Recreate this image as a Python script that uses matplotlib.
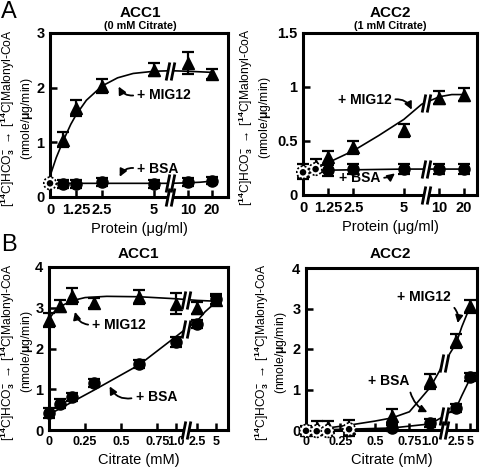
import numpy as np
import matplotlib
matplotlib.use("Agg")
import matplotlib.pyplot as plt
from matplotlib.path import Path

plt.rcParams['font.family'] = ['Liberation Sans', 'DejaVu Sans']
plt.rcParams['font.weight'] = 'bold'
plt.rcParams['mathtext.fontset'] = 'custom'
plt.rcParams['mathtext.rm'] = 'Liberation Sans:bold'
plt.rcParams['mathtext.it'] = 'Liberation Sans:bold'
plt.rcParams['mathtext.bf'] = 'Liberation Sans:bold'

W, H = 486, 472
TICKFONT = ['Liberation Sans Narrow', 'Liberation Sans', 'DejaVu Sans']

# ---- data (A: protein titration, B: citrate titration) ----
prot = [0, 0.625, 1.25, 2.5, 5, 10, 20]
prot_ticks = [0, 1.25, 2.5, 5, 10, 20]
prot_ticklabels = ['0', '1.25', '2.5', '5', '10', '20']

citr = [0, 0.078, 0.156, 0.3125, 0.625, 1.0, 2.5, 5]
citr_ticks = [0, 0.25, 0.5, 0.75, 1.0, 2.5, 5]
citr_ticklabels = ['0', '0.25', '0.5', '0.75', '1.0', '2.5', '5']

# A, ACC1 (0 mM citrate)
a1_mig = [1.05, 1.63, 2.03, 2.33, 2.45, 2.25]          # from 0.625 on
a1_mig_err = [0.14, 0.14, 0.12, 0.12, 0.2, 0.1]
a1_bsa = [0.25, 0.24, 0.24, 0.27, 0.24, 0.27, 0.3]
a1_bsa_err = [0.05, 0.07, 0.07, 0.07, 0.07, 0.07, 0.07]
a1_mig_fit_x = [0, 0.3, 0.625, 1.0, 1.25, 1.75, 2.5, 3.25, 4.0, 5.0, 7.5, 10, 15, 20]
a1_mig_fit_y = [0.38, 0.72, 1.02, 1.33, 1.5, 1.77, 2.03, 2.18, 2.26, 2.3, 2.31, 2.3, 2.29, 2.28]
a1_bsa_fit_x = [0, 2.5, 5, 7.5, 10, 15, 20]
a1_bsa_fit_y = [0.25, 0.25, 0.25, 0.25, 0.26, 0.27, 0.29]

# A, ACC2 (1 mM citrate)
a2_mig = [0.22, 0.27, 0.35, 0.44, 0.6, 0.9, 0.93]
a2_mig_err = [0.07, 0.06, 0.06, 0.06, 0.06, 0.06, 0.06]
a2_bsa = [0.21, 0.24, 0.23, 0.24, 0.24, 0.24, 0.24]
a2_bsa_err = [0.05, 0.05, 0.05, 0.05, 0.05, 0.05, 0.05]
a2_mig_fit_x = [0, 0.625, 1.25, 2.5, 3.75, 5, 7.5, 10, 15, 20]
a2_mig_fit_y = [0.22, 0.26, 0.3, 0.41, 0.55, 0.7, 0.84, 0.91, 0.93, 0.93]
a2_bsa_fit_x = [0, 1.25, 5, 10, 20]
a2_bsa_fit_y = [0.22, 0.23, 0.24, 0.24, 0.24]

# B, ACC1
b1_mig = [2.7, 3.05, 3.28, 3.12, 3.27, 3.1, 3.0, 3.2]
b1_mig_err = [0.18, 0.15, 0.2, 0.12, 0.17, 0.25, 0.15, 0.1]
b1_bsa = [0.42, 0.65, 0.8, 1.15, 1.63, 2.15, 2.6, 3.22]
b1_bsa_err = [0.12, 0.1, 0.1, 0.1, 0.1, 0.12, 0.1, 0.12]
b1_mig_fit_x = [0, 0.04, 0.078, 0.156, 0.25, 0.4, 0.625, 1.0, 1.75, 2.5, 5]
b1_mig_fit_y = [2.72, 2.92, 3.03, 3.17, 3.25, 3.28, 3.27, 3.22, 3.2, 3.18, 3.16]
b1_bsa_fit_x = [0, 0.156, 0.3125, 0.625, 1.0, 1.75, 2.5, 3.5, 5]
b1_bsa_fit_y = [0.38, 0.68, 0.98, 1.6, 2.3, 2.5, 2.68, 2.9, 3.15]

# B, ACC2
b2_mig = [0.0, 0.05, 0.08, 0.04, 0.35, 1.2, 2.2, 3.05]
b2_mig_err = [0.1, 0.17, 0.15, 0.2, 0.17, 0.18, 0.17, 0.17]
b2_bsa = [-0.02, -0.03, -0.03, 0.02, 0.05, 0.18, 0.55, 1.3]
b2_bsa_err = [0.08, 0.08, 0.08, 0.08, 0.08, 0.1, 0.1, 0.1]
b2_mig_fit_x = [0, 0.156, 0.3125, 0.5, 0.625, 0.75, 1.0, 1.75, 2.5, 3.5, 5]
b2_mig_fit_y = [0.0, 0.05, 0.12, 0.22, 0.3, 0.45, 1.05, 1.62, 2.15, 2.55, 3.05]
b2_bsa_fit_x = [0, 0.3125, 0.625, 1.0, 1.75, 2.5, 3.5, 5]
b2_bsa_fit_y = [0.0, 0.02, 0.05, 0.15, 0.33, 0.55, 0.85, 1.27]

# broken x axes: knots real value -> plotting position, per panel
top_kx = [0, 5, 10, 20]
bot_kx = [0, 0.75, 1.0, 2.5, 5]

ylab = ('[$^{14}$C]HCO$_3^{-}$ $\\rightarrow$ [$^{14}$C]Malonyl-CoA\n'
        '(nmole/$\\mu$g/min)')

brk_gap = Path([(-2.6, -5), (0.6, -5), (2.6, 5), (-0.6, 5), (-2.6, -5)],
               [Path.MOVETO, Path.LINETO, Path.LINETO, Path.LINETO, Path.CLOSEPOLY])
brk_lines = Path([(-2.4, -5), (-0.4, 5), (0.4, -5), (2.4, 5)],
                 [Path.MOVETO, Path.LINETO, Path.MOVETO, Path.LINETO])


def brk(ax, x, y):
    ax.plot([x], [y], marker=brk_gap, ms=13, mfc='white', mec='none',
            ls='none', zorder=6, clip_on=False)
    ax.plot([x], [y], marker=brk_lines, ms=13, mec='black', mew=2.0,
            ls='none', zorder=7, clip_on=False)


def panel(l, t, r, b, lab_right):
    ax = fig.add_axes([l / W, 1 - b / H, (r - l) / W, (b - t) / H])
    for s in ax.spines.values():
        s.set_linewidth(2.2)
    ax.tick_params(direction='in', width=1.8, length=5, labelsize=10.5, pad=4)
    ax.set_ylabel(ylab, fontsize=8.7, linespacing=1.15)
    ax.yaxis.set_label_coords((lab_right - l) / (r - l), 0.48)
    return ax


def ticks(ax, xt, xl, yt, yl):
    ax.set_xticks(xt)
    ax.set_xticklabels(xl, fontfamily=TICKFONT)
    ax.set_yticks(yt)
    ax.set_yticklabels(yl, fontfamily=TICKFONT)


def eb(ax, x, y, e, marker, ms=8):
    ax.errorbar(x, y, yerr=e, fmt=marker, ms=ms, mfc='black', mec='black',
                ecolor='black', elinewidth=1.6, capsize=4, capthick=1.6,
                zorder=4, clip_on=False)


def open_pts(ax, x, y):
    # control points: white ring with dotted outline and dark centre
    ax.scatter(x, y, s=80, facecolor='white', edgecolor='black',
               linewidths=1.2, linestyle=(0, (1.2, 1.2)), zorder=5, clip_on=False)
    ax.scatter(x, y, s=22, facecolor='black', edgecolor='none',
               zorder=6, clip_on=False)


def fits(ax, pos, bpos_, curves):
    for fx, fy in curves:
        ax.plot(pos(fx), fy, color='black', lw=1.2, zorder=3)
        brk(ax, bpos_, np.interp(bpos_, pos(fx), fy))
    brk(ax, bpos_, ax.get_ylim()[0])


def arrow_note(ax, s, xy, xytext, rad, relpos=(0, 0.5)):
    ax.annotate(s, xy=xy, xytext=xytext, fontsize=10, va='center', ha='left',
                arrowprops=dict(arrowstyle='-|>', color='black', lw=1.3,
                                mutation_scale=11, shrinkA=1, shrinkB=0,
                                connectionstyle='arc3,rad=%g' % rad,
                                relpos=relpos))


fig = plt.figure(figsize=(W / 100, H / 100), dpi=100)

# ---------- A, ACC1 ----------
ax = panel(50, 33, 228, 197, 35)
kp = [0, 5, 6.63, 7.79]
pos = lambda x: np.interp(x, top_kx, kp)
ax.set_xlim(0, 8.56)
ax.set_ylim(0, 3)
eb(ax, pos(prot[1:]), a1_mig, a1_mig_err, '^', ms=9)
eb(ax, pos(prot[1:]), a1_bsa[1:], a1_bsa_err[1:], 'o')
open_pts(ax, pos(prot[:1]), a1_bsa[:1])
fits(ax, pos, 5.77, [(a1_mig_fit_x, a1_mig_fit_y), (a1_bsa_fit_x, a1_bsa_fit_y)])
ticks(ax, pos(prot_ticks), prot_ticklabels, [0, 1, 2, 3], ['0', '1', '2', '3'])
ax.set_xlabel('Protein (\u03bcg/ml)', fontsize=10.5, labelpad=4)
arrow_note(ax, '+ MIG12', (3.3, 2.02), (4.2, 1.87), -0.4)
arrow_note(ax, '+ BSA', (3.35, 0.37), (4.2, 0.52), 0.4)

# ---------- A, ACC2 ----------
ax = panel(303, 33, 477, 195, 273)
kp = [0, 5.1, 6.9, 8.15]
pos = lambda x: np.interp(x, top_kx, kp)
ax.set_xlim(0, 8.8)
ax.set_ylim(0, 1.5)
eb(ax, pos(prot), a2_mig, a2_mig_err, '^', ms=9)
eb(ax, pos(prot[2:]), a2_bsa[2:], a2_bsa_err[2:], 'o')
open_pts(ax, pos(prot[:2]), a2_bsa[:2])
fits(ax, pos, 6.2, [(a2_mig_fit_x, a2_mig_fit_y), (a2_bsa_fit_x, a2_bsa_fit_y)])
ticks(ax, pos(prot_ticks), prot_ticklabels, [0, 0.5, 1, 1.5], ['0', '0.5', '1', '1.5'])
ax.set_xlabel('Protein (\u03bcg/ml)', fontsize=10.5, labelpad=4)
arrow_note(ax, '+ MIG12', (5.5, 0.79), (1.75, 0.88), -0.4, relpos=(1, 0.5))
arrow_note(ax, '+ BSA', (4.65, 0.2), (1.8, 0.16), 0.2, relpos=(1, 0.5))

# ---------- B, ACC1 ----------
ax = panel(49, 267, 228, 430, 35)
kp = [0, 0.75, 0.882, 1.028, 1.16]
pos = lambda x: np.interp(x, bot_kx, kp)
ax.set_xlim(0, 1.24)
ax.set_ylim(0, 4)
eb(ax, pos(citr), b1_mig, b1_mig_err, '^', ms=9)
eb(ax, pos(citr), b1_bsa, b1_bsa_err, 'o')
fits(ax, pos, 0.95, [(b1_mig_fit_x, b1_mig_fit_y), (b1_bsa_fit_x, b1_bsa_fit_y)])
ticks(ax, pos(citr_ticks), citr_ticklabels, [0, 1, 2, 3, 4], ['0', '1', '2', '3', '4'])
ax.tick_params(axis='x', labelsize=9)
ax.set_xlabel('Citrate (mM)', fontsize=10.5, labelpad=4)
arrow_note(ax, '+ MIG12', (0.18, 2.9), (0.3, 2.58), -0.4)
arrow_note(ax, '+ BSA', (0.42, 1.07), (0.6, 0.8), -0.4)

# ---------- B, ACC2 ----------
ax = panel(306, 268, 477, 430, 289)
kp = [0, 0.75, 0.9, 1.09, 1.19]
pos = lambda x: np.interp(x, bot_kx, kp)
ax.set_xlim(0, 1.24)
ax.set_ylim(0, 4)
eb(ax, pos(citr), b2_mig, b2_mig_err, '^', ms=9)
eb(ax, pos(citr[4:]), b2_bsa[4:], b2_bsa_err[4:], 'o')
open_pts(ax, pos(citr[:4]), b2_bsa[:4])
fits(ax, pos, 1.0, [(b2_mig_fit_x, b2_mig_fit_y), (b2_bsa_fit_x, b2_bsa_fit_y)])
ticks(ax, pos(citr_ticks), citr_ticklabels, [0, 1, 2, 3, 4], ['0', '1', '2', '3', '4'])
ax.tick_params(axis='x', labelsize=9)
ax.set_xlabel('Citrate (mM)', fontsize=10.5, labelpad=4)
arrow_note(ax, '+ MIG12', (1.1, 2.64), (0.66, 3.28), -0.3, relpos=(1, 0))
arrow_note(ax, '+ BSA', (0.88, 0.44), (0.45, 1.2), 0.25, relpos=(1, 0))

# ---------- titles / panel letters ----------
def ftext(x, y, s, **kw):
    fig.text(x / W, 1 - y / H, s, ha='center', va='center', **kw)

ftext(140, 13, 'ACC1', fontsize=11)
ftext(140, 26, '(0 mM Citrate)', fontsize=7.8)
ftext(390, 13, 'ACC2', fontsize=11)
ftext(390, 26, '(1 mM Citrate)', fontsize=7.8)
ftext(138, 254, 'ACC1', fontsize=11)
ftext(390, 254, 'ACC2', fontsize=11)
ftext(9, 12, 'A', fontsize=17, fontweight='normal')
ftext(9, 245, 'B', fontsize=17, fontweight='normal')

fig.savefig('out.png', dpi=100)
